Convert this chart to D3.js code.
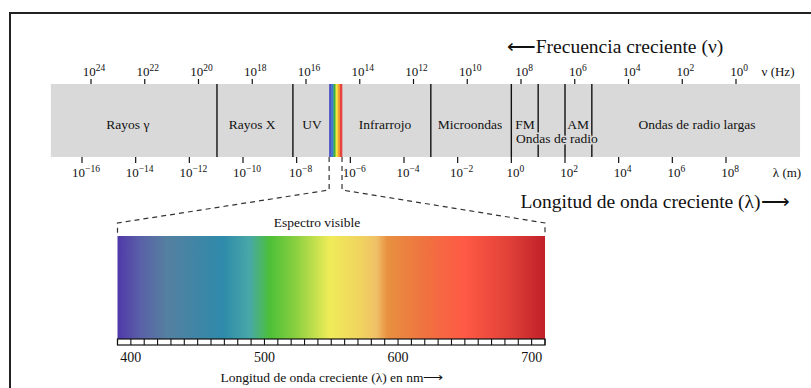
<!DOCTYPE html>
<html>
<head>
<meta charset="utf-8">
<script src="https://cdn.jsdelivr.net/npm/d3@7/dist/d3.min.js"></script>
<style>
  body { margin: 0; background: #fff; }
  svg text { font-family: "Liberation Serif", "Times New Roman", serif; fill: #111; }
</style>
</head>
<body>
<svg id="chart" width="811" height="388"></svg>
<script>
// frequency ticks (exponents of 10, Hz) and wavelength ticks (exponents of 10, m)
const freqExp = [24, 22, 20, 18, 16, 14, 12, 10, 8, 6, 4, 2, 0];
const lamExp = [-16, -14, -12, -10, -8, -6, -4, -2, 0, 2, 4, 6, 8];

// band limits and region dividers, as log10 of wavelength (m)
const bandRange = [-17.16, 10.76];
const dividers = [-10.97, -8.14, -3.0, 0.0, 1.0, 2.0, 3.0];
const visibleRange = [-6.79, -6.31];
const stripColors = ["#4a4fc0", "#3a78d0", "#3cb043", "#f2e640", "#f5a030", "#e8403a"];

const regionNames = ["Rayos γ", "Rayos X", "UV", "Infrarrojo", "Microondas", "FM", "AM", "Ondas de radio largas"];
const regionPos = [-14.29, -9.66, -7.43, -4.71, -1.54, 0.51, 2.49, 6.92];
const radioLabel = "Ondas de radio";
const radioPos = 1.70;

// visible spectrum
const nmRange = [390, 710];
const nmTicks = [400, 500, 600, 700];
const nmStops = [390, 407, 427, 469, 489, 504, 524, 549, 574, 584, 592, 622, 649, 684, 710];
const nmColors = ["#5038a8", "#5a60a8", "#5580a0", "#2e8aaa", "#48a8a8", "#4cc038", "#8cd040", "#f0ec58",
                  "#f0d060", "#f0c068", "#e89040", "#f07040", "#ff5a45", "#e04038", "#c02028"];

const svg = d3.select("#chart");

const xLam = d3.scaleLinear().domain([-16, 8]).range([82, 726]);
const xFreq = d3.scaleLinear().domain([24, 0]).range([91, 736]);
const xNm = d3.scaleLinear().domain(nmRange).range([117.5, 545]);

const bandTop = 84, bandBottom = 157;

// frame
svg.append("line").attr("x1", 10).attr("x2", 811).attr("y1", 13).attr("y2", 13)
  .attr("stroke", "#222").attr("stroke-width", 2);
svg.append("line").attr("x1", 10).attr("x2", 10).attr("y1", 12).attr("y2", 388)
  .attr("stroke", "#222").attr("stroke-width", 2);

// gray band
svg.append("rect")
  .attr("x", xLam(bandRange[0])).attr("y", bandTop)
  .attr("width", xLam(bandRange[1]) - xLam(bandRange[0]))
  .attr("height", bandBottom - bandTop)
  .attr("fill", "#d9d9d9");

// visible strip
const stripW = (xLam(visibleRange[1]) - xLam(visibleRange[0])) / stripColors.length;
svg.append("g").selectAll("rect").data(stripColors).join("rect")
  .attr("x", (d, i) => xLam(visibleRange[0]) + i * stripW)
  .attr("y", bandTop).attr("width", stripW + 0.3).attr("height", bandBottom - bandTop)
  .attr("fill", d => d);

// dividers
svg.append("g").selectAll("line").data(dividers).join("line")
  .attr("x1", d => xLam(d)).attr("x2", d => xLam(d))
  .attr("y1", bandTop).attr("y2", bandBottom)
  .attr("stroke", "#111").attr("stroke-width", 1.4);

// region labels
svg.append("g").selectAll("text").data(regionNames).join("text")
  .attr("x", (d, i) => xLam(regionPos[i])).attr("y", 129)
  .attr("text-anchor", "middle").attr("font-size", 13.5)
  .text(d => d);

svg.append("text")
  .attr("x", xLam(radioPos)).attr("y", 143)
  .attr("text-anchor", "middle").attr("font-size", 13.5)
  .attr("stroke", "#d9d9d9").attr("stroke-width", 3).attr("paint-order", "stroke")
  .text(radioLabel);

// power-of-ten label helper
function powLabel(sel, exp) {
  sel.append("tspan").text("10");
  sel.append("tspan").attr("dy", -5).attr("font-size", 9.5)
    .text(exp < 0 ? "\u2212" + Math.abs(exp) : exp);
}

// top axis (frequency)
const freqAxis = svg.append("g");
freqAxis.selectAll("line").data(freqExp).join("line")
  .attr("x1", d => xFreq(d)).attr("x2", d => xFreq(d))
  .attr("y1", 79).attr("y2", bandTop)
  .attr("stroke", "#111").attr("stroke-width", 1.2);
freqAxis.selectAll("text").data(freqExp).join("text")
  .attr("x", d => xFreq(d) + 3).attr("y", 76)
  .attr("text-anchor", "middle").attr("font-size", 13)
  .each(function (d) { powLabel(d3.select(this), d); });
svg.append("text").attr("x", 778).attr("y", 76).attr("text-anchor", "middle")
  .attr("font-size", 13).text("ν (Hz)");

// bottom axis (wavelength)
const lamAxis = svg.append("g");
lamAxis.selectAll("line").data(lamExp).join("line")
  .attr("x1", d => xLam(d)).attr("x2", d => xLam(d))
  .attr("y1", bandBottom).attr("y2", 163)
  .attr("stroke", "#111").attr("stroke-width", 1.2);
lamAxis.selectAll("text").data(lamExp).join("text")
  .attr("x", d => xLam(d) + 4).attr("y", 177)
  .attr("text-anchor", "middle").attr("font-size", 13)
  .each(function (d) { powLabel(d3.select(this), d); });
svg.append("text").attr("x", 787).attr("y", 177).attr("text-anchor", "middle")
  .attr("font-size", 13).text("λ (m)");

// titles
svg.append("text").attr("x", 615).attr("y", 53).attr("text-anchor", "middle")
  .attr("font-size", 19.5).text("\u27F5Frecuencia creciente (ν)");
svg.append("text").attr("x", 655).attr("y", 208).attr("text-anchor", "middle")
  .attr("font-size", 19.5).text("Longitud de onda creciente (λ)\u27F6");

// dashed zoom connector
const specTop = 236, specBottom = 339;
const connY = 190, connY2 = 223;
[[visibleRange[0], nmRange[0]], [visibleRange[1], nmRange[1]]].forEach(([e, nm]) => {
  svg.append("path")
    .attr("d", d3.line()([[xLam(e), bandBottom], [xLam(e), connY], [xNm(nm), connY2], [xNm(nm), specTop]]))
    .attr("fill", "none").attr("stroke", "#333").attr("stroke-width", 1.2)
    .attr("stroke-dasharray", "5,4");
});

svg.append("text").attr("x", 317).attr("y", 227).attr("text-anchor", "middle")
  .attr("font-size", 13.5).text("Espectro visible");

// spectrum gradient
const grad = svg.append("defs").append("linearGradient").attr("id", "spec")
  .attr("x1", "0%").attr("x2", "100%").attr("y1", "0%").attr("y2", "0%");
grad.selectAll("stop").data(nmStops).join("stop")
  .attr("offset", d => ((xNm(d) - xNm(nmRange[0])) / (xNm(nmRange[1]) - xNm(nmRange[0]))))
  .attr("stop-color", (d, i) => nmColors[i]);

svg.append("rect")
  .attr("x", xNm(nmRange[0])).attr("y", specTop)
  .attr("width", xNm(nmRange[1]) - xNm(nmRange[0])).attr("height", specBottom - specTop)
  .attr("fill", "url(#spec)");

// ruler under the spectrum
const ruler = svg.append("g");
ruler.append("rect")
  .attr("x", xNm(nmRange[0])).attr("y", specBottom)
  .attr("width", xNm(nmRange[1]) - xNm(nmRange[0])).attr("height", 6)
  .attr("fill", "#fff").attr("stroke", "#111").attr("stroke-width", 1.2);
ruler.selectAll("line").data(d3.range(nmRange[0], nmRange[1] + 1, 10)).join("line")
  .attr("x1", d => xNm(d)).attr("x2", d => xNm(d))
  .attr("y1", specBottom).attr("y2", specBottom + 6)
  .attr("stroke", "#111").attr("stroke-width", 1.1);

svg.append("g").selectAll("text").data(nmTicks).join("text")
  .attr("x", d => xNm(d)).attr("y", 362)
  .attr("text-anchor", "middle").attr("font-size", 14)
  .text(d => d);

svg.append("text").attr("x", 332).attr("y", 382).attr("text-anchor", "middle")
  .attr("font-size", 13.5).text("Longitud de onda creciente (λ) en nm\u27F6");
</script>
</body>
</html>
